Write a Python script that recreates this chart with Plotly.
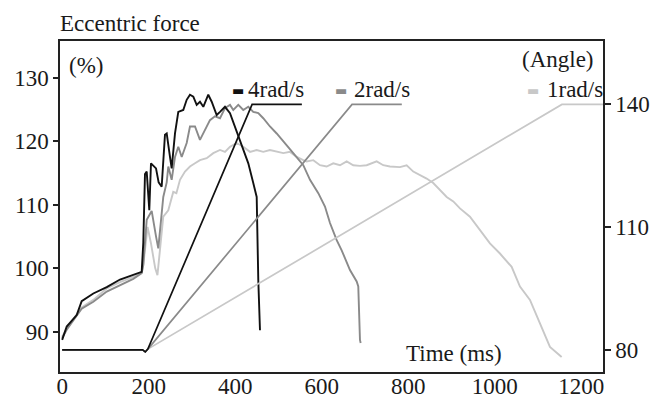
import plotly.graph_objects as go

# ---------------- data ----------------
x_ticks = [0, 200, 400, 600, 800, 1000, 1200]
force_ticks = [90, 100, 110, 120, 130]
angle_ticks = [80, 110, 140]

# Eccentric force (%) vs time (ms)
t_4 = [0, 10.5, 33.6, 45.1, 72, 103, 133.7, 164.4, 183.8, 187.5, 191.4, 195.4, 201.4, 205.3,
       210.6, 216.9, 223, 230, 237.6, 241.6, 249.2, 253.1, 260.8, 268.4, 279.9, 287.8, 295.4,
       303.1, 310.9, 318.5, 326.2, 337.7, 345.6, 357.1, 364.8, 376.3, 387.9, 403.4, 418.6,
       430.2, 441.7, 449.6, 453.3, 457.2]
f_4 = [88.7, 90.8, 92.6, 94.8, 96.0, 97.0, 98.2, 98.9, 99.4, 104, 114.8, 115.2, 109.1, 116.5,
       116.2, 115.7, 113.5, 112.8, 121.0, 121.2, 117.5, 115.7, 121.2, 124.6, 124.9, 126.5,
       127.3, 127.0, 125.7, 126.2, 125.4, 127.3, 126.2, 124.1, 124.6, 125.4, 124.4, 121.5,
       118.9, 116.5, 113.4, 111.2, 98.1, 90.2]

t_2 = [0, 10.5, 45.1, 72, 103, 133.7, 164.4, 183.8, 187.5, 195.4, 206.9, 216.9, 222.2, 233.7,
       241.6, 245.3, 249.2, 253.1, 260.8, 268.4, 276.3, 287.8, 295.4, 307.0, 318.5, 330.1,
       341.6, 353.2, 364.8, 376.3, 387.9, 395.5, 407.1, 418.6, 430.2, 441.7, 453.3, 464.8,
       480.3, 495.8, 511.1, 534.1, 557.3, 572.8, 592.0, 607.4, 619.0, 634.5, 646.0, 665.2,
       680.7, 684.4, 688.3, 689.9]
f_2 = [89.0, 90.3, 93.6, 94.7, 96.3, 97.3, 98.3, 99.2, 100.5, 107.6, 109.0, 105.0, 103.1, 111.2,
       113.5, 116.0, 114.9, 113.9, 117.5, 119.1, 117.5, 119.7, 122.3, 122.3, 120.2, 121.7,
       123.3, 123.9, 123.6, 125.2, 125.7, 124.9, 125.7, 124.9, 125.4, 124.6, 124.4, 123.6,
       122.3, 121.2, 119.9, 118.1, 116.2, 113.9, 111.8, 109.7, 107.1, 104.4, 102.8, 99.7,
       97.9, 97.1, 88.7, 88.2]

t_1 = [0, 10.5, 45.1, 72, 103, 133.7, 164.4, 183.8, 187.5, 197.4, 205, 215, 220.2, 233.7,
       245.3, 256.8, 264, 272.3, 283.9, 295.4, 307.0, 318.5, 334.0, 349.3, 364.8, 376.3,
       387.9, 403.4, 418.6, 434.1, 449.6, 464.8, 480.3, 495.8, 511.1, 526.4, 542.0, 557.3,
       565.1, 580.4, 595.9, 611.3, 626.6, 642.1, 657.6, 672.8, 688.3, 703.8, 726.9, 742.1,
       757.6, 780.7, 796.2, 811.5, 827.0, 842.4, 857.7, 873.2, 888.7, 904.0, 919.4, 942.5,
       965.6, 988.7, 1011.8, 1038.9, 1058.1, 1081.2, 1104.3, 1127.4, 1154.4]
f_1 = [89.2, 90.5, 93.8, 95.0, 96.8, 97.8, 98.6, 99.3, 100.5, 106.5, 104.0, 100.0, 98.9, 108.1,
       109.1, 112.0, 111.8, 113.9, 115.2, 116.0, 116.5, 117.0, 117.3, 118.1, 118.6, 118.3,
       119.1, 119.7, 119.1, 118.3, 118.6, 118.3, 118.6, 118.3, 118.1, 118.3, 117.5, 117.0,
       116.8, 117.0, 116.2, 116.0, 116.5, 116.2, 116.8, 116.2, 116.1, 116.2, 116.8, 116.2,
       116.0, 115.9, 116.2, 115.2, 114.7, 114.1, 113.4, 112.3, 111.2, 110.5, 109.4, 108.1,
       106.0, 103.9, 102.3, 100.2, 97.1, 95.0, 91.3, 87.6, 86.0]

# Joint angle (deg) vs time (ms)
ta_4 = [0, 186, 192, 198, 439, 554]
ta_2 = [0, 186, 192, 198, 670, 785]
ta_1 = [0, 186, 192, 198, 1155, 1250]
ang = [80, 80, 79.5, 80.2, 140, 140]

series = [
    ("1rad/s", t_1, f_1, ta_1, "#c8c8c8"),
    ("2rad/s", t_2, f_2, ta_2, "#8a8a8a"),
    ("4rad/s", t_4, f_4, ta_4, "#111111"),
]

# ---------------- figure ----------------
FONT = "Liberation Serif, Times New Roman, serif"
TXT = "#1a1a1a"
fig = go.Figure()
for name, tf, ff, ta, col in series:
    fig.add_trace(go.Scatter(x=ta, y=ang, yaxis="y2", mode="lines",
                             line=dict(color=col, width=1.7), showlegend=False, hoverinfo="skip"))
for name, tf, ff, ta, col in series:
    fig.add_trace(go.Scatter(x=tf, y=ff, mode="lines", name=name,
                             line=dict(color=col, width=1.9), showlegend=False))

fig.update_layout(
    template="none",
    width=655, height=396, autosize=False,
    margin=dict(l=60, r=52, t=41, b=24),
    paper_bgcolor="white", plot_bgcolor="white",
    font=dict(family=FONT, size=23, color=TXT),
    xaxis=dict(range=[-5, 1250], tickvals=x_ticks, ticks="", showline=True, mirror=True,
               linecolor="#222", linewidth=1.5, showgrid=False, zeroline=False, automargin=False,
               ticklabelstandoff=-7,
               tickfont=dict(size=23, family=FONT, color=TXT)),
    yaxis=dict(range=[83.64, 135.76], tickvals=force_ticks, ticks="outside", ticklen=5,
               tickcolor="#222", tickwidth=1.5, showline=True, mirror=True, automargin=False,
               linecolor="#222", linewidth=1.5, showgrid=False, zeroline=False,
               tickfont=dict(size=23, family=FONT, color=TXT)),
    yaxis2=dict(range=[74.6, 155.5], tickvals=angle_ticks, ticksuffix="°", overlaying="y",
                side="right", ticks="outside", ticklen=6, tickcolor="#222", tickwidth=1.5,
                showline=True, linecolor="#222", linewidth=1.5, showgrid=False, zeroline=False,
                automargin=False, tickfont=dict(size=23, family=FONT, color=TXT)),
)

def ann(text, x, y, xanchor="left", color=TXT, size=23, family=FONT):
    fig.add_annotation(text=text, x=x, y=y, xref="paper", yref="paper", xanchor=xanchor,
                       yanchor="middle", showarrow=False,
                       font=dict(family=family, size=size, color=color))

ann("Eccentric force", -0.004, 1.054)
ann("(%)", 0.012, 0.9245)
ann("(Angle)", 0.988, 0.9456, xanchor="right")
ann("Time (ms)", 0.7256, 0.0544, xanchor="center")

legend_pos = {"4rad/s": (0.3278, 0.3425), "2rad/s": (0.5175, 0.5380), "1rad/s": (0.8702, 0.8935)}
for name, tf, ff, ta, col in series:
    dx, tx = legend_pos[name]
    ann("▬", dx, 0.849, xanchor="center", color=col, size=13, family="DejaVu Sans")
    ann(name, tx, 0.852)

fig.write_html("out.html", config={"displayModeBar": False},
               post_script="document.body.style.margin='0';")
